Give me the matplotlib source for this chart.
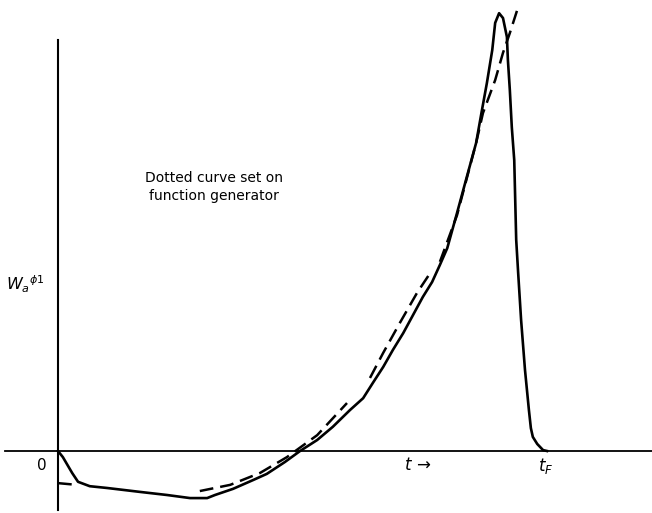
import matplotlib.pyplot as plt

# recorder trace (solid), t scaled so that t_F = 10
t_trace = [0, 0.10, 0.29, 0.41, 0.65, 1.00, 1.68, 2.23, 2.70, 3.05, 3.21, 3.58,
           3.99, 4.27, 4.64, 4.95, 5.30, 5.62, 5.97, 6.24, 6.44, 6.65, 6.85,
           7.06, 7.26, 7.46, 7.65, 7.81, 7.96, 8.16, 8.36, 8.55, 8.67, 8.77,
           8.88, 8.94, 9.02, 9.10, 9.18, 9.20, 9.24, 9.28, 9.33, 9.35, 9.37,
           9.41, 9.47, 9.55, 9.63, 9.67, 9.71, 9.80, 9.92, 10.0]
w_trace = [0, -0.14, -0.50, -0.70, -0.80, -0.84, -0.93, -1.00, -1.07, -1.07,
           -1.00, -0.86, -0.66, -0.52, -0.25, 0, 0.25, 0.55, 0.93, 1.20, 1.55,
           1.91, 2.30, 2.68, 3.09, 3.50, 3.84, 4.23, 4.61, 5.41, 6.23, 7.00,
           7.75, 8.36, 9.11, 9.73, 9.95, 9.84, 9.41, 8.89, 8.20, 7.36, 6.61,
           5.70, 4.80, 4.05, 2.98, 1.84, 0.93, 0.52, 0.32, 0.16, 0.02, 0]

# function generator setting (dashed), in separate pieces
gen_t = [
    [0.0, 0.39],
    [2.90, 3.52, 4.13, 4.68, 5.30, 5.91],
    [6.38, 6.65, 6.99, 7.34, 7.65],
    [7.81, 8.16, 8.36, 8.55, 8.69, 8.94, 9.10, 9.24, 9.39],
]
gen_w = [
    [-0.73, -0.77],
    [-0.91, -0.77, -0.50, -0.14, 0.36, 1.09],
    [1.66, 2.23, 2.91, 3.59, 4.11],
    [4.30, 5.36, 6.20, 7.00, 7.68, 8.43, 9.05, 9.50, 10.02],
]

fig = plt.figure(figsize=(6.52, 5.13), dpi=100)
ax = fig.add_axes([0, 0, 1, 1])
ax.set_xlim(-1.186, 12.147)
ax.set_ylim(-1.409, 10.25)
ax.axis("off")

# axes drawn by hand like the original
ax.plot([-1.08, 12.15], [0, 0], color="black", lw=1.3)
ax.plot([0, 0], [-1.34, 9.34], color="black", lw=1.5)

ax.plot(t_trace, w_trace, color="black", lw=1.9, solid_joinstyle="round")
for tt, ww in zip(gen_t, gen_w):
    ax.plot(tt, ww, color="black", lw=1.8, dashes=(5.5, 2.8))

ax.text(-0.33, -0.32, "0", fontsize=11, ha="center", va="center")
ax.text(7.35, -0.32, r"$t\,\rightarrow$", fontsize=12, ha="center", va="center")
ax.text(9.97, -0.34, r"$t_F$", fontsize=12, ha="center", va="center")
ax.text(-0.66, 3.78, r"$W_a{}^{\phi 1}$", fontsize=11.5, ha="center", va="center")
ax.text(3.18, 6.0, "Dotted curve set on\nfunction generator", fontsize=10,
        ha="center", va="center", linespacing=1.3)

plt.savefig("out.png", dpi=100)
